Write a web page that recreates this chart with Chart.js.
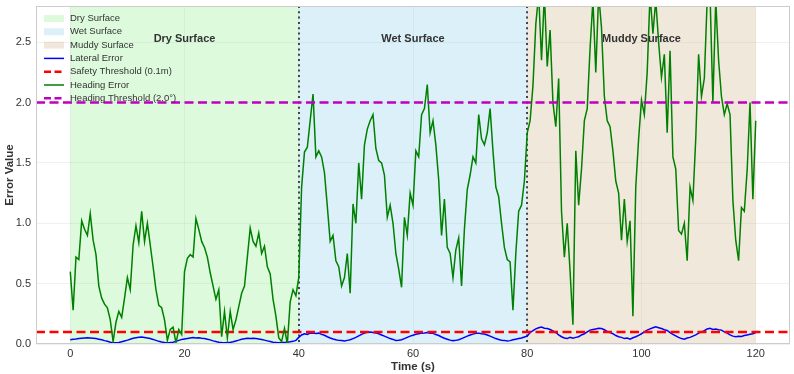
<!DOCTYPE html>
<html>
<head>
<meta charset="utf-8">
<script src="https://cdn.jsdelivr.net/npm/chart.js@4/dist/chart.umd.min.js"></script>
<style>
  html, body { margin: 0; padding: 0; background: #fff; }
</style>
</head>
<body>
<canvas id="chart" width="794" height="374"></canvas>
<script>
// sample spacing of both error series, seconds
const STEP = 0.5;

// heading error, one value every 0.5 s from 0 to 120 s (10 values per row = 5 s)
const headingError = [
  0.60, 0.28, 0.72, 0.70, 1.02, 0.95, 0.90, 1.08, 0.86, 0.74,
  0.48, 0.38, 0.33, 0.30, 0.20, 0.02, 0.18, 0.27, 0.22, 0.38,
  0.55, 0.45, 0.82, 0.98, 0.84, 1.10, 0.85, 1.00, 0.82, 0.64,
  0.45, 0.32, 0.30, 0.20, 0.03, 0.12, 0.14, 0.01, 0.12, 0.08,
  0.60, 0.71, 0.74, 0.72, 1.04, 0.95, 0.85, 0.80, 0.72, 0.59,
  0.48, 0.37, 0.45, 0.06, 0.27, 0.05, 0.27, 0.12, 0.20, 0.31,
  0.42, 0.48, 0.72, 0.96, 0.85, 0.81, 0.92, 0.75, 0.81, 0.64,
  0.58, 0.37, 0.23, 0.05, 0.02, 0.13, 0.00, 0.35, 0.45, 0.40,
  0.55, 1.30, 1.59, 1.63, 1.85, 2.07, 1.55, 1.60, 1.55, 1.42,
  1.14, 0.85, 0.90, 0.69, 0.64, 0.48, 0.55, 0.75, 0.42, 1.16,
  1.00, 1.50, 1.20, 1.65, 1.78, 1.85, 1.90, 1.62, 1.52, 1.50,
  1.40, 1.05, 1.15, 1.00, 0.75, 0.62, 0.47, 1.05, 0.90, 1.25,
  1.15, 1.60, 1.55, 1.90, 1.95, 2.15, 1.75, 1.85, 1.65, 1.36,
  0.90, 1.20, 0.80, 0.75, 0.55, 0.78, 0.88, 0.48, 0.95, 1.28,
  1.40, 1.55, 1.50, 1.90, 1.70, 1.65, 1.75, 1.95, 1.60, 1.30,
  1.22, 1.00, 0.80, 0.70, 0.68, 0.28, 0.75, 1.10, 1.15, 1.35,
  1.75, 1.85, 2.14, 2.65, 2.90, 2.35, 2.90, 2.30, 2.60, 2.00,
  1.80, 2.20, 1.10, 0.72, 1.00, 0.60, 0.16, 1.60, 1.15, 1.45,
  1.85, 1.95, 2.45, 2.85, 2.25, 2.90, 2.62, 2.05, 1.85, 1.80,
  1.60, 1.35, 1.25, 0.86, 1.20, 0.85, 1.02, 0.23, 1.30, 1.70,
  2.02, 1.90, 2.25, 2.90, 2.57, 2.85, 2.50, 2.21, 2.40, 1.75,
  2.43, 1.55, 1.45, 0.94, 0.91, 1.00, 0.69, 1.30, 1.19, 1.70,
  2.40, 2.05, 2.20, 2.85, 2.90, 2.00, 2.85, 2.35, 2.05, 1.90,
  1.99, 1.90, 1.19, 0.86, 0.69, 1.13, 1.10, 1.44, 2.00, 1.20,
  1.85
];

// lateral error, same time grid
const lateralError = [
  0.035, 0.040, 0.042, 0.045, 0.048, 0.050, 0.052, 0.050, 0.048, 0.045,
  0.040, 0.035, 0.028, 0.022, 0.015, 0.012, 0.010, 0.012, 0.018, 0.025,
  0.032, 0.040, 0.048, 0.052, 0.056, 0.058, 0.054, 0.050, 0.045, 0.038,
  0.030, 0.022, 0.016, 0.012, 0.010, 0.012, 0.015, 0.022, 0.030, 0.038,
  0.042, 0.046, 0.050, 0.053, 0.050, 0.052, 0.048, 0.045, 0.040, 0.034,
  0.026, 0.020, 0.015, 0.012, 0.010, 0.012, 0.012, 0.018, 0.025, 0.032,
  0.040, 0.044, 0.048, 0.046, 0.048, 0.045, 0.042, 0.038, 0.032, 0.026,
  0.020, 0.014, 0.012, 0.010, 0.012, 0.012, 0.015, 0.018, 0.022, 0.030,
  0.055, 0.075, 0.085, 0.080, 0.090, 0.092, 0.088, 0.090, 0.080, 0.072,
  0.060, 0.050, 0.042, 0.035, 0.030, 0.028, 0.025, 0.030, 0.035, 0.045,
  0.055, 0.068, 0.080, 0.090, 0.098, 0.100, 0.095, 0.092, 0.085, 0.075,
  0.065, 0.055, 0.045, 0.038, 0.030, 0.032, 0.035, 0.045, 0.055, 0.065,
  0.072, 0.080, 0.085, 0.090, 0.092, 0.095, 0.090, 0.088, 0.078, 0.070,
  0.058, 0.048, 0.040, 0.032, 0.028, 0.030, 0.035, 0.045, 0.055, 0.065,
  0.075, 0.082, 0.088, 0.090, 0.085, 0.082, 0.075, 0.065, 0.055, 0.045,
  0.038, 0.032, 0.030, 0.025, 0.028, 0.035, 0.040, 0.045, 0.050, 0.058,
  0.065, 0.095, 0.110, 0.125, 0.135, 0.140, 0.130, 0.128, 0.120, 0.108,
  0.095, 0.075, 0.060, 0.050, 0.045, 0.055, 0.048, 0.055, 0.060, 0.075,
  0.085, 0.100, 0.115, 0.120, 0.125, 0.130, 0.128, 0.118, 0.105, 0.095,
  0.085, 0.070, 0.060, 0.055, 0.045, 0.050, 0.040, 0.052, 0.060, 0.072,
  0.085, 0.100, 0.115, 0.125, 0.135, 0.142, 0.135, 0.128, 0.118, 0.112,
  0.095, 0.080, 0.068, 0.055, 0.045, 0.040, 0.050, 0.055, 0.065, 0.075,
  0.090, 0.100, 0.110, 0.125, 0.130, 0.120, 0.125, 0.118, 0.115, 0.100,
  0.090, 0.075, 0.065, 0.060, 0.065, 0.062, 0.070, 0.075, 0.080, 0.085,
  0.095
];

const regionNames = ['Dry Surface', 'Wet Surface', 'Muddy Surface'];
const regionStart = [0, 40, 80];
const regionEnd = [40, 80, 120];
const regionFill = ['rgba(144, 238, 144, 0.3)', 'rgba(135, 206, 235, 0.3)', 'rgba(210, 180, 140, 0.3)'];
const regionBoundaries = [40, 80];
const regionLabelY = 2.53;

const safetyThreshold = 0.1;
const headingThreshold = 2.0;

const xTicks = [0, 20, 40, 60, 80, 100, 120];
const yTicks = [0, 0.5, 1.0, 1.5, 2.0, 2.5];
const xLimits = [-6, 126];
const yLimits = [0, 2.8];

const FONT = "'Liberation Sans', Arial, sans-serif";
const TEXT = '#333333';

const times = headingError.map((_, i) => i * STEP);
const toPoints = (vals) => vals.map((v, i) => ({ x: times[i], y: v }));
const hLine = (v) => [{ x: xLimits[0], y: v }, { x: xLimits[1], y: v }];

// shaded surface regions, boundary lines, labels, legend and frame
const surfacePlugin = {
  id: 'surfaces',
  beforeDatasetsDraw(chart) {
    const { ctx, chartArea: a, scales: { x } } = chart;
    ctx.save();
    regionNames.forEach((name, i) => {
      const x0 = x.getPixelForValue(regionStart[i]);
      const x1 = x.getPixelForValue(regionEnd[i]);
      ctx.fillStyle = regionFill[i];
      ctx.fillRect(x0, a.top, x1 - x0, a.bottom - a.top);
    });
    ctx.strokeStyle = 'rgba(0, 0, 0, 0.7)';
    ctx.lineWidth = 2;
    ctx.setLineDash([2, 3.3]);
    regionBoundaries.forEach(b => {
      const px = Math.round(x.getPixelForValue(b));
      ctx.beginPath();
      ctx.moveTo(px, a.top);
      ctx.lineTo(px, a.bottom);
      ctx.stroke();
    });
    ctx.restore();
  },
  afterDatasetsDraw(chart) {
    const { ctx, chartArea: a, scales: { x, y } } = chart;
    ctx.save();

    // region labels
    ctx.font = `bold 11px ${FONT}`;
    ctx.fillStyle = TEXT;
    ctx.textAlign = 'center';
    ctx.textBaseline = 'middle';
    regionNames.forEach((name, i) => {
      const cx = x.getPixelForValue((regionStart[i] + regionEnd[i]) / 2);
      ctx.fillText(name, cx, y.getPixelForValue(regionLabelY));
    });

    // legend
    const items = [];
    regionNames.forEach((name, i) => items.push({ label: name, fill: regionFill[i] }));
    chart.data.datasets.forEach(ds => items.push({
      label: ds.label, color: ds.borderColor, dash: ds.borderDash || [], width: ds.borderWidth
    }));
    ctx.font = `9.5px ${FONT}`;
    ctx.textAlign = 'left';
    items.forEach((it, i) => {
      const cy = 18.5 + i * 13.3;
      if (it.fill) {
        ctx.fillStyle = it.fill;
        ctx.fillRect(44, cy - 3.5, 20, 7);
      } else {
        ctx.strokeStyle = it.color;
        ctx.lineWidth = it.width;
        ctx.setLineDash(it.dash.length ? [7, 3.5] : []);
        ctx.beginPath();
        ctx.moveTo(44, cy);
        ctx.lineTo(64, cy);
        ctx.stroke();
      }
      ctx.setLineDash([]);
      ctx.fillStyle = TEXT;
      ctx.fillText(it.label, 70, cy);
    });

    // frame
    ctx.strokeStyle = '#cccccc';
    ctx.lineWidth = 1;
    ctx.strokeRect(a.left + 0.5, a.top + 0.5, a.right - a.left - 1, a.bottom - a.top - 1);
    ctx.restore();
  }
};

new Chart(document.getElementById('chart'), {
  type: 'line',
  data: {
    datasets: [
      {
        label: 'Lateral Error',
        data: toPoints(lateralError),
        borderColor: '#0000ff',
        borderWidth: 1.5,
        order: 4
      },
      {
        label: 'Safety Threshold (0.1m)',
        data: hLine(safetyThreshold),
        borderColor: '#ff0000',
        borderWidth: 2.5,
        borderDash: [9, 4.5],
        order: 3
      },
      {
        label: 'Heading Error',
        data: toPoints(headingError),
        borderColor: '#008000',
        borderWidth: 1.5,
        order: 2
      },
      {
        label: 'Heading Threshold (2.0°)',
        data: hLine(headingThreshold),
        borderColor: '#bf00bf',
        borderWidth: 2.5,
        borderDash: [9, 4.5],
        order: 1
      }
    ]
  },
  options: {
    responsive: false,
    animation: false,
    devicePixelRatio: 1,
    layout: { padding: { top: 6, right: 4, left: 0, bottom: 0 } },
    elements: { point: { radius: 0 }, line: { tension: 0 } },
    plugins: { legend: { display: false }, tooltip: { enabled: false } },
    scales: {
      x: {
        type: 'linear',
        min: xLimits[0],
        max: xLimits[1],
        afterBuildTicks: s => { s.ticks = xTicks.map(v => ({ value: v })); },
        afterFit: s => { s.height = 30; s.paddingLeft = 0; s.paddingRight = 0; },
        ticks: { color: TEXT, font: { family: FONT, size: 11 }, padding: 3 },
        grid: { color: 'rgba(0, 0, 0, 0.06)', drawTicks: false },
        border: { display: false },
        title: {
          display: true, text: 'Time (s)', color: TEXT,
          font: { family: FONT, size: 11.5, weight: 'bold' }, padding: { top: 0, bottom: 0 }
        }
      },
      y: {
        min: yLimits[0],
        max: yLimits[1],
        afterBuildTicks: s => { s.ticks = yTicks.map(v => ({ value: v })); },
        afterFit: s => { s.width = 36; s.paddingTop = 0; s.paddingBottom = 0; },
        ticks: { color: TEXT, font: { family: FONT, size: 11 }, padding: 5, callback: v => v.toFixed(1) },
        grid: { color: 'rgba(0, 0, 0, 0.06)', drawTicks: false },
        border: { display: false },
        title: {
          display: true, text: 'Error Value', color: TEXT,
          font: { family: FONT, size: 11.5, weight: 'bold' }, padding: { top: 3, bottom: 0 }
        }
      }
    }
  },
  plugins: [surfacePlugin]
});
</script>
</body>
</html>
